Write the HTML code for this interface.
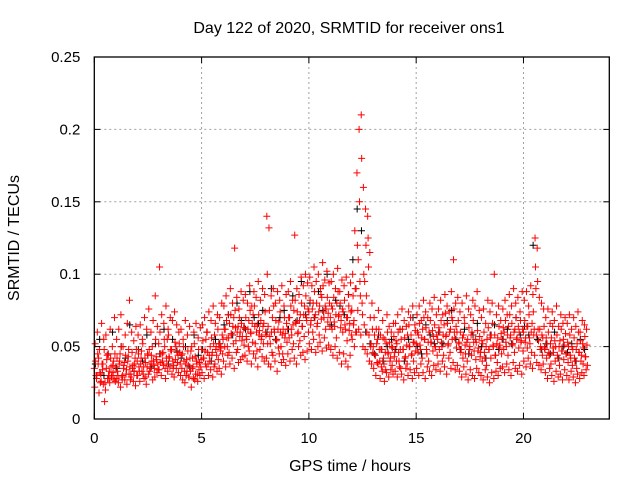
<!DOCTYPE html>
<html><head><meta charset="utf-8"><style>
html,body{margin:0;padding:0;background:#fff}
svg{display:block;font-family:"Liberation Sans",sans-serif}
</style></head><body>
<svg id="chart" width="640" height="480" viewBox="0 0 640 480">
<rect width="640" height="480" fill="#fff"/>
<text x="349" y="33" text-anchor="middle" font-size="16" fill="#000">Day 122 of 2020, SRMTID for receiver ons1</text>
<text x="350" y="471" text-anchor="middle" font-size="16" fill="#000">GPS time / hours</text>
<text transform="translate(19,238) rotate(-90)" text-anchor="middle" font-size="16" fill="#000">SRMTID / TECUs</text>
<g id="grid"></g>
<g id="marks"></g>
<g id="axes"></g>
</svg>
<script>
// values in 1e-3 TECU, sampled every 0.1 h from 0
const seriesA=[35,28,42,31,38,25,44,33,29,40,36,30,45,27,39,34,48,31,37,42,40,33,47,36,29,44,38,50,35,41,52,39,46,35,55,42,48,37,50,44,38,45,33,41,29,47,36,43,31,39,48,42,55,38,50,46,58,44,52,49,55,62,50,66,58,70,54,64,60,57,63,55,68,59,72,52,65,61,57,66,58,64,52,70,60,55,67,50,62,59,62,70,58,75,66,60,72,64,78,68,74,68,80,72,66,78,84,70,76,73,70,76,64,80,72,68,74,62,70,66,75,68,90,110,85,72,95,60,58,52,50,44,55,40,48,38,52,45,42,49,46,52,40,55,48,43,58,50,45,53,52,58,48,62,55,45,60,53,57,50,55,60,50,65,58,52,62,68,56,60,52,48,58,45,55,50,60,47,53,49,46,52,42,55,48,58,50,44,56,51,55,60,50,64,58,52,62,56,60,54,60,56,64,52,66,62,58,54,50,56,48,52,44,56,46,50,42,54,47,51,45,50,42,48,40,52,46,44,49,43];
const seriesB=[22,30,18,26,24,20,28,25,30,27,28,25,22,30,27,24,31,29,26,23,30,26,33,28,24,31,35,27,29,32,34,30,37,28,33,36,31,29,35,32,30,27,25,33,29,22,28,31,26,30,32,28,36,30,34,29,38,33,35,31,40,36,44,38,42,35,46,39,41,43,44,40,47,38,45,42,36,48,43,40,42,38,36,44,40,33,45,39,41,37,45,40,48,42,38,50,44,46,41,47,52,48,55,46,50,53,47,56,49,51,48,44,50,42,46,38,45,40,36,44,55,50,60,62,58,50,48,45,40,38,35,30,38,28,33,26,32,29,34,31,33,29,36,31,27,35,30,34,28,32,35,30,38,32,28,36,33,30,37,34,38,33,40,36,31,42,35,39,34,37,33,29,36,31,27,34,30,28,35,32,30,27,34,29,25,32,28,33,30,35,36,32,38,34,30,39,35,33,37,31,40,36,42,38,35,44,39,37,34,38,32,28,35,30,26,33,29,31,27,34,30,27,33,29,25,31,28,32,30,34];
const seriesC=[52,60,48,66,55,58,45,62,50,70,55,62,72,50,58,66,82,60,54,64,58,65,55,70,62,76,60,68,85,64,105,72,66,78,62,70,68,74,65,60,62,55,68,58,64,50,60,66,56,63,65,70,60,74,68,78,66,72,70,80,78,85,72,90,80,118,84,76,88,82,86,80,92,78,88,84,95,82,90,86,140,132,85,90,80,88,82,92,78,86,88,95,82,127,90,86,98,92,100,94,98,92,105,95,100,90,108,96,102,94,95,100,90,104,88,96,92,98,86,94,100,130,170,200,210,160,145,140,115,80,70,62,75,58,68,55,72,64,60,66,66,72,62,76,68,64,74,70,78,65,72,78,68,82,74,70,80,76,84,72,76,82,72,86,78,74,88,110,80,84,74,80,70,85,76,72,82,78,88,75,70,76,66,82,74,80,100,72,78,68,76,82,72,86,78,90,80,84,74,88,82,88,78,92,86,125,118,84,80,76,70,76,66,74,68,78,64,72,66,70,66,72,62,70,64,74,60,68,65,62];
const seriesD=[40,45,32,38,48,35,30,42,37,45,42,38,50,35,44,40,36,46,33,48,45,38,52,42,36,48,44,40,55,38,60,45,55,42,58,48,40,53,46,52,44,50,38,47,42,35,52,40,48,36,54,47,60,44,56,52,48,62,50,58,62,68,56,72,64,75,60,70,66,63,70,62,75,66,78,60,72,68,64,74,100,75,60,78,68,62,74,58,70,66,70,78,65,82,74,68,80,72,85,76,82,76,88,80,74,86,92,78,84,80,78,84,72,88,80,76,82,70,78,74,85,90,120,150,180,100,120,125,70,62,58,52,62,48,56,46,60,53,50,57,54,60,48,62,56,51,65,58,53,61,60,66,56,70,63,53,68,61,65,58,63,68,58,73,66,60,70,76,64,68,60,56,66,53,63,58,68,55,61,57,54,60,50,63,56,66,58,52,64,59,63,68,58,72,66,60,70,64,68,62,68,64,72,60,74,105,95,62,58,64,56,60,52,64,54,58,50,62,55,59,53,58,50,56,48,60,54,52,57,51];
const seriesE=[30,38,25,34,12,41,28,36,32,26,33,40,29,37,31,43,27,35,38,30,36,42,31,39,45,33,40,37,43,34,45,40,50,38,43,47,35,41,39,46,35,40,30,37,33,42,27,38,34,41,42,38,46,40,44,36,50,41,47,45,50,56,46,59,52,63,48,57,54,51,57,50,60,53,64,47,58,55,52,60,52,57,46,62,54,49,60,45,56,53,56,62,52,67,59,54,64,57,70,60,65,60,70,64,58,69,74,62,67,64,62,67,56,71,63,60,65,54,61,58,65,60,75,95,80,65,85,105,50,46,44,39,48,36,42,34,46,40,37,43,40,46,35,48,42,38,50,44,40,47,46,51,42,55,48,40,53,47,50,44,48,53,44,57,51,46,55,60,49,53,46,42,51,40,48,44,53,41,47,43,40,46,37,48,42,51,44,39,49,45,48,53,44,56,51,46,55,49,53,47,53,49,56,46,58,90,62,48,44,49,42,46,38,49,40,44,37,47,41,45,39,44,37,42,35,46,40,38,43,37];
// black series, sampled every 0.2 h
const seriesBlack=[38,55,30,45,60,35,50,42,65,33,48,40,58,36,52,45,62,38,55,47,42,50,36,58,44,48,60,40,55,52,65,72,58,80,68,62,88,70,66,75,60,90,55,70,75,62,85,68,95,72,80,70,88,75,100,65,82,78,72,86,110,145,130,60,52,45,58,40,50,55,48,62,40,55,70,50,45,65,58,52,60,52,68,75,55,48,62,45,58,66,50,42,58,65,48,55,62,52,70,58,64,58,120,55,48,52,45,60,42,50,46,52,40,55,48];
const xTicks=[0,5,10,15,20];
const yTicks=[0,0.05,0.1,0.15,0.2,0.25];
const yTickLabels=["0","0.05","0.1","0.15","0.2","0.25"];

const L=94.3,R=609.3,T=57,B=419;
const xMax=24,yMax=0.25;
const xs=v=>L+(v/xMax)*(R-L);
const ys=v=>B-(v/yMax)*(B-T);
const NS="http://www.w3.org/2000/svg";
function mk(tag,attrs,parent){const e=document.createElementNS(NS,tag);for(const k in attrs)e.setAttribute(k,attrs[k]);parent.appendChild(e);return e;}
const grid=document.getElementById('grid'),marks=document.getElementById('marks'),axes=document.getElementById('axes');

xTicks.forEach(t=>{
  const x=xs(t);
  if(t>0){const g=mk('line',{x1:x,y1:T,x2:x,y2:B,stroke:'#a0a0a0','stroke-width':1,'stroke-dasharray':'2,3'},grid);
  
  }
  const a=mk('line',{x1:x,y1:B,x2:x,y2:B-6,stroke:'#000'},axes);
  
  
  const b=mk('line',{x1:x,y1:T,x2:x,y2:T+6,stroke:'#000'},axes);
  
  
  const tx=mk('text',{x:x,y:B+24,'text-anchor':'middle','font-size':15},axes);
  tx.textContent=String(t);
  
  
});
yTicks.forEach((t,i)=>{
  const y=ys(t);
  if(i>0&&i<yTicks.length-1){const g=mk('line',{x1:L,y1:y,x2:R,y2:y,stroke:'#a0a0a0','stroke-width':1,'stroke-dasharray':'2,3'},grid);
  
  }
  const a=mk('line',{x1:L,y1:y,x2:L+6,y2:y,stroke:'#000'},axes);
  
  
  const b=mk('line',{x1:R,y1:y,x2:R-6,y2:y,stroke:'#000'},axes);
  
  
  const tx=mk('text',{x:L-14,y:y+5,'text-anchor':'end','font-size':15},axes);
  tx.textContent=yTickLabels[i];
  
  
});
const frame=mk('rect',{x:L,y:T,width:R-L,height:B-T,fill:'none',stroke:'#000','stroke-width':1.3},axes);



function plus(t,v,color,name){
  const x=xs(t),y=ys(v);
  const p=mk('path',{d:`M${x-3.5},${y}h7M${x},${y-3.5}v7`,stroke:color,'stroke-width':1,fill:'none'},marks);
  
  
}
seriesBlack.forEach((v,i)=>plus(i*0.2+0.05,v/1000,'#000','black-point'));
[seriesA,seriesB,seriesC,seriesD,seriesE].forEach((arr,k)=>{
  arr.forEach((v,i)=>plus(i*0.1+k*0.02,v/1000,'#ff0000','red-point'));
});
</script>
</body></html>
